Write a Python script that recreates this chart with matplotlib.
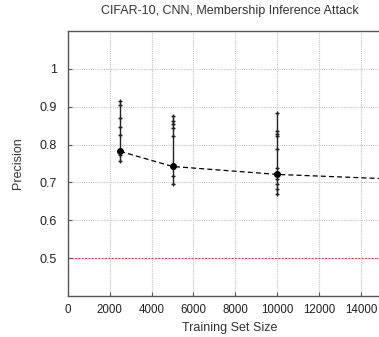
import matplotlib
matplotlib.use("Agg")
import matplotlib.pyplot as plt
import numpy as np

plt.rcParams['font.family'] = ['Liberation Sans', 'DejaVu Sans']

# training set sizes and per-trial precision values
sizes = [2500, 5000, 10000]
trials_2500 = [0.916, 0.905, 0.870, 0.846, 0.825, 0.782, 0.771, 0.756]
trials_5000 = [0.875, 0.863, 0.854, 0.843, 0.822, 0.742, 0.737, 0.717, 0.695]
trials_10000 = [0.883, 0.837, 0.828, 0.822, 0.789, 0.738, 0.721, 0.708, 0.697, 0.683, 0.670]
all_trials = [trials_2500, trials_5000, trials_10000]

# mean precision (incl. next size just off the right edge)
mean_sizes = [2500, 5000, 10000, 15000]
mean_prec = [0.782, 0.742, 0.721, 0.710]

baseline = 0.5
xticks = [0, 2000, 4000, 6000, 8000, 10000, 12000, 14000]
yticks = [0.5, 0.6, 0.7, 0.8, 0.9, 1.0]
ytick_labels = ['0.5', '0.6', '0.7', '0.8', '0.9', '1']

fig = plt.figure(figsize=(3.79, 3.37), dpi=100)
ax = fig.add_axes([0.179, 0.122, 0.884, 0.786])

# baseline (random guess)
ax.axhline(baseline, color='#e03030', lw=0.8, ls=(0, (1.5, 1.5)), zorder=2)

for s, vals in zip(sizes, all_trials):
    ax.plot([s, s], [min(vals), max(vals)], color='#222222', lw=1.0, zorder=3)
    ax.plot([s] * len(vals), vals, ls='none', marker='+', ms=3.2, mew=1.0,
            color='#222222', zorder=4)

ax.plot(mean_sizes, mean_prec, color='black', lw=0.9, ls=(0, (4, 2.5)),
        marker='o', ms=4, zorder=5)

ax.set_xlim(0, 16000)
ax.set_ylim(0.4, 1.1)
ax.set_xticks(xticks)
ax.set_xticklabels([str(v) for v in xticks])
ax.set_yticks(yticks)
ax.set_yticklabels(ytick_labels)
ax.grid(True, color='#c4c4c4', ls=(0, (1, 1)), lw=0.8)
ax.tick_params(direction='in', length=3, color='#555555', labelcolor='#222222')
ax.tick_params(axis='x', labelsize=8.3, pad=6)
ax.tick_params(axis='y', labelsize=9, pad=8)
for sp in ax.spines.values():
    sp.set_color('#555555')
    sp.set_linewidth(1.0)

ax.set_title('CIFAR-10, CNN, Membership Inference Attack', fontsize=9, pad=12,
             color='#333333')
ax.title.set_x((230 - 68) / 335)
ax.set_xlabel('Training Set Size', fontsize=9, color='#333333')
ax.xaxis.set_label_coords((230 - 68) / 335, -0.098)
ax.set_ylabel('Precision', fontsize=9, color='#333333')
ax.yaxis.set_label_coords(-0.13, 0.5)

fig.savefig('out.png', dpi=100)
